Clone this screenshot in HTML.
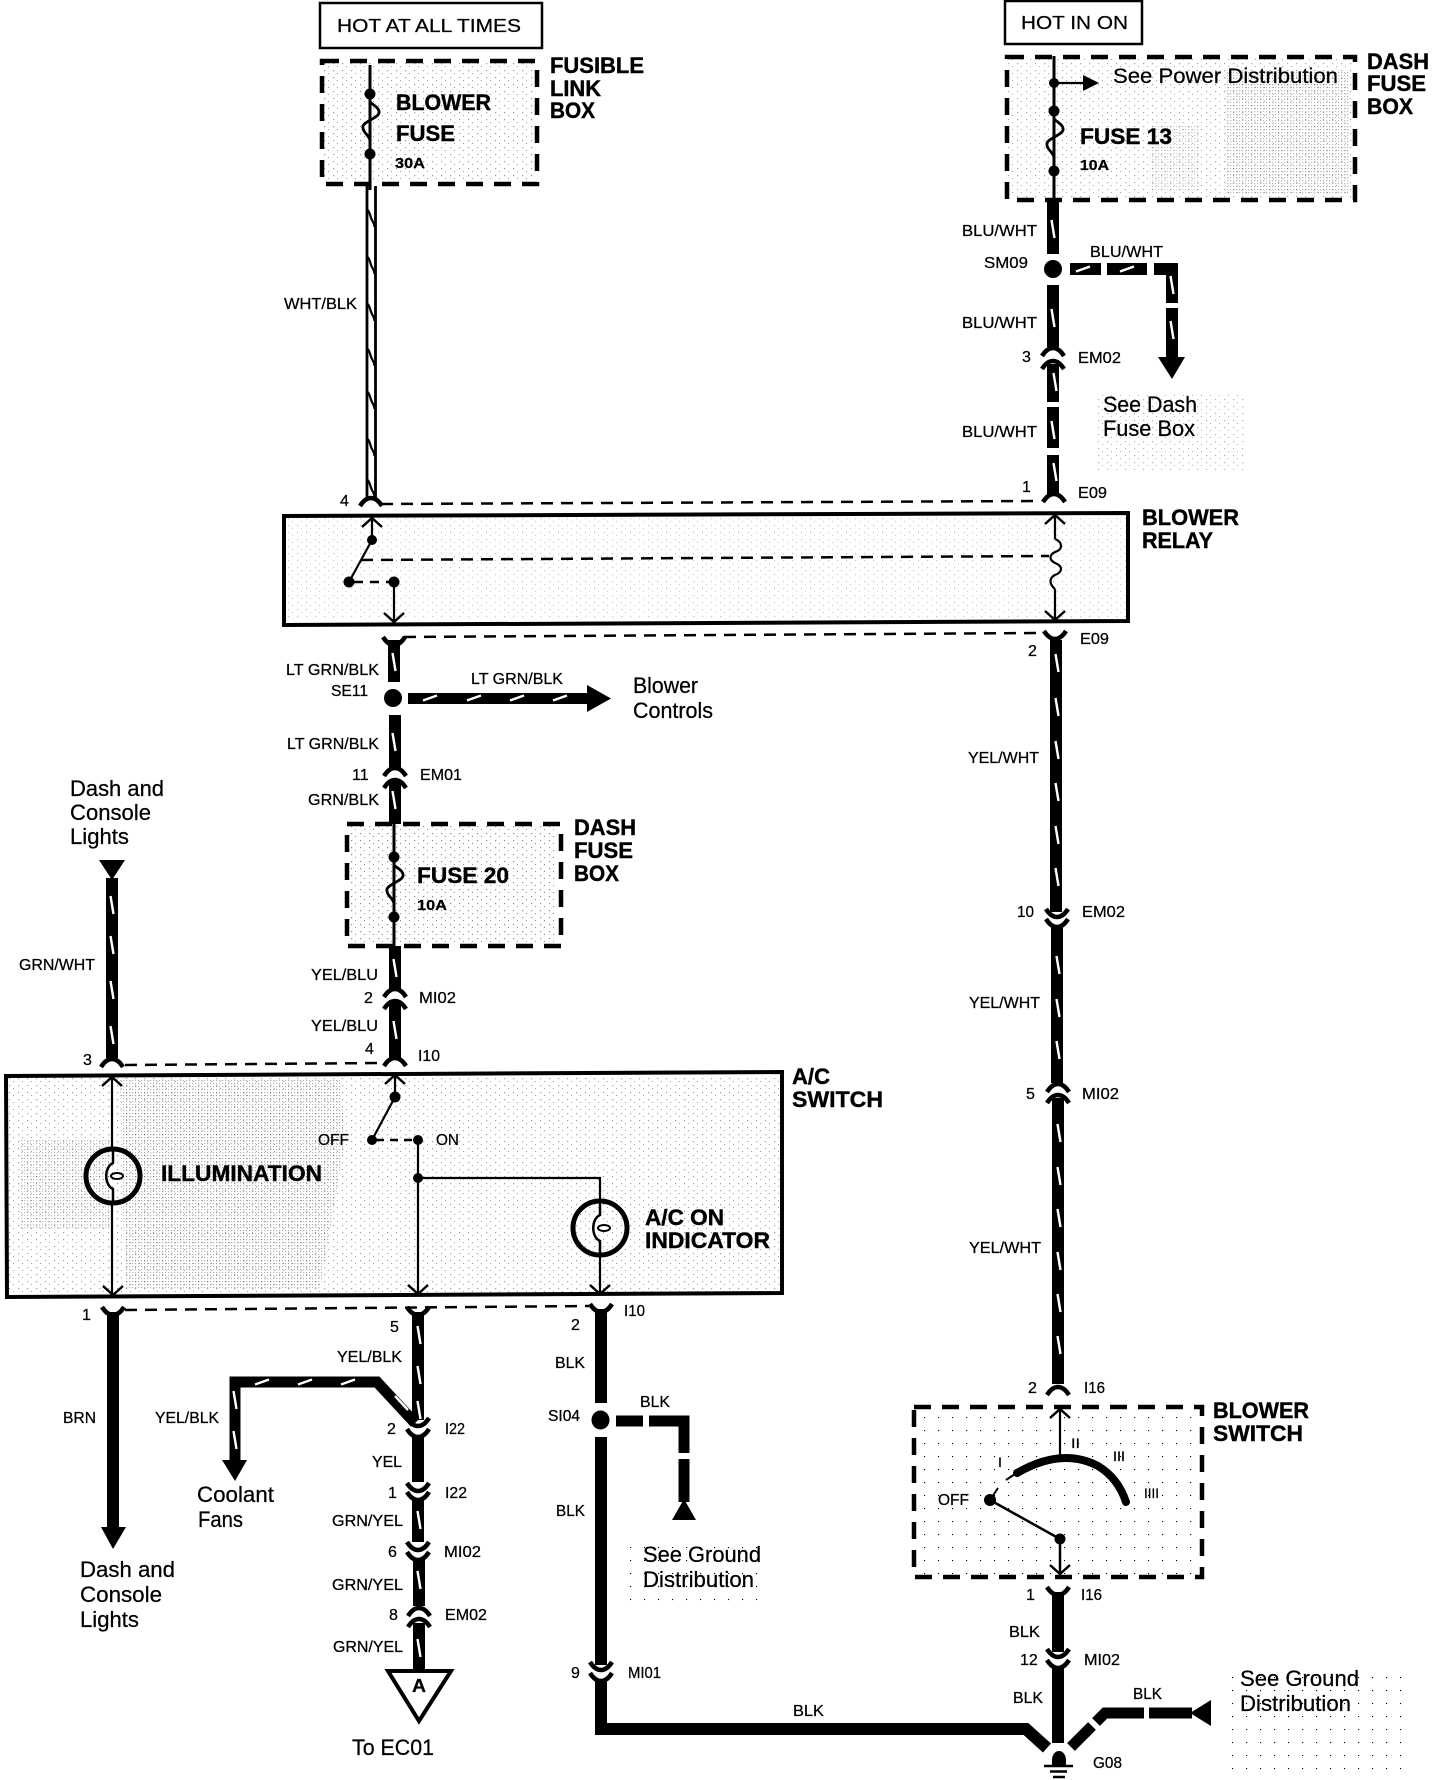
<!DOCTYPE html>
<html><head><meta charset="utf-8"><style>
html,body{margin:0;padding:0;background:#fff}
svg{display:block}
text{font-family:"Liberation Sans",sans-serif;fill:#000;stroke:#000;stroke-width:.25px}
.l{font-size:15.5px}
.n{font-size:16px}
.b{font-size:22px;font-weight:bold;stroke-width:.4px}
.g{font-size:22px}
.w{stroke:#000;stroke-width:12;fill:none}
.box{stroke:#000;stroke-width:4;fill:none}
.dbox{stroke:#000;stroke-width:4.5;fill:none;stroke-dasharray:17 11}
.dl{stroke:#000;stroke-width:2.5;fill:none;stroke-dasharray:12 8}
.t{stroke:#000;stroke-width:2.2;fill:none}
.tk{stroke:#000;stroke-width:4;fill:none}
</style></head><body>
<svg xmlns="http://www.w3.org/2000/svg" width="1440" height="1780" viewBox="0 0 1440 1780">
<defs>
<pattern id="p1" width="9" height="7" patternUnits="userSpaceOnUse"><rect width="1.2" height="1.2" fill="#000"/><rect x="4" y="3" width="1" height="1" fill="#000"/></pattern>
<pattern id="p2" width="3" height="3" patternUnits="userSpaceOnUse"><rect width="1.2" height="1.2" fill="#000"/></pattern>
<pattern id="p3" width="14" height="13" patternUnits="userSpaceOnUse"><rect width="1.1" height="1.1" fill="#000"/></pattern>
<path id="t" d="M-1.5 -9 L1.5 9" stroke="#fff" stroke-width="2.4" fill="none"/>
<path id="h" d="M-7 2.5 L7 -2.5" stroke="#fff" stroke-width="2.4" fill="none"/>
<path id="a" d="M-11 5 Q-6 -3 0 -3 Q6 -3 11 5" stroke="#000" stroke-width="4.5" fill="none"/>
<path id="v" d="M-11 -5 Q-6 3 0 3 Q6 3 11 -5" stroke="#000" stroke-width="4.5" fill="none"/>
<path id="u" d="M-10 9 L0 0 L10 9" stroke="#000" stroke-width="2.5" fill="none"/>
<path id="d" d="M-10 -9 L0 0 L10 -9" stroke="#000" stroke-width="2.5" fill="none"/>
<path id="s" d="M-3.5 -8 C-1 -6 -1 -2 0.5 1 C1.5 4 3.5 5 3.5 9" stroke="#000" stroke-width="2.2" fill="none"/>
<g id="f"><path d="M0 0 V8 C3 11 10 14 9 19 C8 24 -5 27 -7 32 C-8 38 -2 40 0 46 V60" stroke="#000" stroke-width="2.8" fill="none"/><circle r="5.5" fill="#000"/><circle cy="60" r="5.5" fill="#000"/></g>
<g id="bulb"><circle r="27" stroke="#000" stroke-width="5" fill="none"/><path d="M0 -26 V-13 C-9 -9 -9 9 0 13 V26" stroke="#000" stroke-width="2.5" fill="none"/><ellipse cx="4" cy="0" rx="6" ry="3" stroke="#000" stroke-width="2" fill="#fff"/></g>
</defs>

<!-- stipple -->
<rect x="323" y="62" width="212" height="120" fill="url(#p1)" opacity=".4"/>
<rect x="1008" y="58" width="345" height="140" fill="url(#p1)" opacity=".35"/>
<rect x="1225" y="70" width="125" height="125" fill="url(#p2)" opacity=".28"/>
<rect x="1150" y="125" width="50" height="65" fill="url(#p2)" opacity=".18"/>
<rect x="1095" y="395" width="150" height="75" fill="url(#p1)" opacity=".3"/>
<rect x="286" y="518" width="840" height="100" fill="url(#p1)" opacity=".22"/>
<rect x="348" y="825" width="210" height="118" fill="url(#p1)" opacity=".45"/>
<rect x="8" y="1078" width="772" height="214" fill="url(#p1)" opacity=".38"/>
<path d="M120 1080 H340 L345 1140 L320 1290 H125 Z" fill="url(#p2)" opacity=".3"/>
<path d="M20 1140 H110 V1230 H20 Z" fill="url(#p2)" opacity=".25"/>
<rect x="915" y="1408" width="285" height="167" fill="url(#p3)"/>
<rect x="630" y="1540" width="140" height="70" fill="url(#p3)"/>
<rect x="1225" y="1670" width="180" height="100" fill="url(#p3)"/>

<!-- top boxes -->
<rect x="320" y="3" width="222" height="45" fill="#fff" stroke="#000" stroke-width="2.5"/>
<text class="n" x="337" y="32" textLength="184" lengthAdjust="spacingAndGlyphs" style="font-size:18px">HOT AT ALL TIMES</text>
<rect x="1005" y="1" width="137" height="43" fill="#fff" stroke="#000" stroke-width="2.5"/>
<text class="n" x="1021" y="29" textLength="107" lengthAdjust="spacingAndGlyphs" style="font-size:18px">HOT IN ON</text>

<!-- fusible link box -->
<rect class="dbox" x="322" y="61" width="215" height="123"/>
<path class="t" d="M370 65 V190" style="stroke-width:3"/>
<use href="#f" x="370" y="94"/>
<text class="b" x="396" y="110" textLength="95" lengthAdjust="spacingAndGlyphs">BLOWER</text>
<text class="b" x="396" y="141" textLength="59" lengthAdjust="spacingAndGlyphs">FUSE</text>
<text x="395" y="168" textLength="30" lengthAdjust="spacingAndGlyphs" style="font-size:15px;font-weight:bold">30A</text>
<text class="b" x="550" y="73" textLength="94" lengthAdjust="spacingAndGlyphs">FUSIBLE</text>
<text class="b" x="550" y="96" textLength="51" lengthAdjust="spacingAndGlyphs">LINK</text>
<text class="b" x="550" y="118" textLength="45" lengthAdjust="spacingAndGlyphs">BOX</text>

<!-- double wire -->
<path d="M367 186 V498 M375.5 186 V498" stroke="#000" stroke-width="2.8" fill="none"/>
<use href="#s" x="371" y="218"/><use href="#s" x="371" y="265"/><use href="#s" x="371" y="312"/><use href="#s" x="371" y="357"/><use href="#s" x="371" y="400"/><use href="#s" x="371" y="447"/><use href="#s" x="371" y="488"/>
<text class="l" x="284" y="309" textLength="73" lengthAdjust="spacingAndGlyphs">WHT/BLK</text>
<text class="n" x="340" y="506">4</text>
<use href="#a" x="371" y="501"/>
<path class="dl" d="M381 504 L1041 501"/>

<!-- relay -->
<path class="box" d="M284 516 L1128 513 V621 L284 625 Z"/>
<path class="t" d="M372 518 V540 L349 582"/>
<use href="#u" x="372" y="518"/>
<circle cx="372" cy="540" r="5" fill="#000"/><circle cx="349" cy="582" r="5.5" fill="#000"/><circle cx="394" cy="582" r="5.5" fill="#000"/>
<path class="t" d="M394 582 V622"/><use href="#d" x="394" y="622"/>
<path d="M354 582 H392" stroke="#000" stroke-width="2.5" stroke-dasharray="9 7"/>
<path class="dl" d="M361 560 L1049 556"/>
<path class="t" d="M1055 515 V539 M1055 589 V620"/>
<path class="t" d="M1055 539 C1063 542 1063 550 1055 552 C1049 555 1049 560 1055 563 C1063 566 1063 572 1055 575 C1049 578 1049 584 1055 589"/>
<use href="#u" x="1055" y="515"/><use href="#d" x="1055" y="620"/>
<text class="b" x="1142" y="525" textLength="97" lengthAdjust="spacingAndGlyphs">BLOWER</text>
<text class="b" x="1142" y="548" textLength="71" lengthAdjust="spacingAndGlyphs">RELAY</text>

<!-- dash fuse box top -->
<rect class="dbox" x="1007" y="57" width="348" height="143"/>
<path class="t" d="M1054 56 V200" style="stroke-width:3"/>
<use href="#f" x="1054" y="111"/>
<circle cx="1054" cy="83" r="5" fill="#000"/>
<path class="t" d="M1054 83 H1085"/><path d="M1083 75 L1099 83 L1083 91 Z" fill="#000"/>
<text x="1113" y="83" textLength="225" lengthAdjust="spacingAndGlyphs" style="font-size:21px">See Power Distribution</text>
<text class="b" x="1080" y="144" textLength="92" lengthAdjust="spacingAndGlyphs">FUSE 13</text>
<text x="1080" y="170" textLength="29" lengthAdjust="spacingAndGlyphs" style="font-size:15px;font-weight:bold">10A</text>
<text class="b" x="1367" y="69" textLength="62" lengthAdjust="spacingAndGlyphs">DASH</text>
<text class="b" x="1367" y="91" textLength="59" lengthAdjust="spacingAndGlyphs">FUSE</text>
<text class="b" x="1367" y="114" textLength="46" lengthAdjust="spacingAndGlyphs">BOX</text>

<!-- BLU/WHT wire -->
<path class="w" d="M1053 200 V254 M1053 285 V347 M1053 364 V402 M1053 407 V448 M1053 455 V494"/>
<use href="#t" x="1053" y="229"/><use href="#t" x="1053" y="318"/><use href="#t" x="1055" y="382"/><use href="#t" x="1053" y="430"/><use href="#t" x="1055" y="472"/>
<circle cx="1053" cy="269" r="9" fill="#000"/>
<use href="#a" x="1053" y="351"/><use href="#a" x="1053" y="364"/><use href="#a" x="1054" y="497"/>
<path class="w" d="M1070 269 H1101 M1107 269 H1147 M1154 269 H1172 V303 M1172 308 V358"/>
<use href="#h" x="1083" y="269"/><use href="#h" x="1127" y="269"/>
<use href="#t" x="1172" y="285"/><use href="#t" x="1172" y="330"/>
<path d="M1158 357 H1185 L1172 379 Z" fill="#000"/>
<text class="l" x="962" y="236" textLength="75" lengthAdjust="spacingAndGlyphs">BLU/WHT</text>
<text class="l" x="984" y="268" textLength="44" lengthAdjust="spacingAndGlyphs">SM09</text>
<text class="l" x="962" y="328" textLength="75" lengthAdjust="spacingAndGlyphs">BLU/WHT</text>
<text class="n" x="1022" y="362">3</text>
<text class="l" x="1078" y="363" textLength="43" lengthAdjust="spacingAndGlyphs">EM02</text>
<text class="l" x="962" y="437" textLength="75" lengthAdjust="spacingAndGlyphs">BLU/WHT</text>
<text class="n" x="1022" y="492">1</text>
<text class="l" x="1078" y="498" textLength="29" lengthAdjust="spacingAndGlyphs">E09</text>
<text class="l" x="1090" y="257" textLength="73" lengthAdjust="spacingAndGlyphs">BLU/WHT</text>
<text class="g" x="1103" y="412" textLength="94" lengthAdjust="spacingAndGlyphs">See Dash</text>
<text class="g" x="1103" y="436" textLength="92" lengthAdjust="spacingAndGlyphs">Fuse Box</text>

<!-- right YEL/WHT -->
<path class="dl" d="M404 637 L1044 633"/>
<use href="#v" x="1055" y="636"/>
<path class="w" d="M1056 640 V912 M1057 926 V1083 M1058 1098 V1384"/>
<use href="#t" x="1057" y="663"/><use href="#t" x="1057" y="707"/><use href="#t" x="1057" y="750"/><use href="#t" x="1057" y="792"/><use href="#t" x="1057" y="835"/><use href="#t" x="1057" y="877"/>
<use href="#t" x="1058" y="965"/><use href="#t" x="1058" y="1008"/><use href="#t" x="1058" y="1050"/><use href="#t" x="1059" y="1133"/><use href="#t" x="1059" y="1176"/><use href="#t" x="1059" y="1218"/><use href="#t" x="1059" y="1261"/><use href="#t" x="1059" y="1303"/><use href="#t" x="1059" y="1345"/>
<use href="#v" x="1057" y="914"/><use href="#v" x="1057" y="924"/>
<use href="#a" x="1058" y="1087"/><use href="#a" x="1058" y="1098"/>
<text class="n" x="1028" y="656">2</text>
<text class="l" x="1080" y="644" textLength="29" lengthAdjust="spacingAndGlyphs">E09</text>
<text class="l" x="968" y="763" textLength="71" lengthAdjust="spacingAndGlyphs">YEL/WHT</text>
<text class="l" x="1017" y="917" textLength="17" lengthAdjust="spacingAndGlyphs">10</text>
<text class="l" x="1082" y="917" textLength="43" lengthAdjust="spacingAndGlyphs">EM02</text>
<text class="l" x="969" y="1008" textLength="71" lengthAdjust="spacingAndGlyphs">YEL/WHT</text>
<text class="n" x="1026" y="1099">5</text>
<text class="l" x="1082" y="1099" textLength="37" lengthAdjust="spacingAndGlyphs">MI02</text>
<text class="l" x="969" y="1253" textLength="72" lengthAdjust="spacingAndGlyphs">YEL/WHT</text>

<!-- center upper -->
<use href="#v" x="394" y="642"/>
<path class="w" d="M394 640 V682 M395 715 V768 M395 781 V824"/>
<use href="#t" x="394" y="662"/><use href="#t" x="394" y="742"/><use href="#t" x="394" y="800"/>
<circle cx="393" cy="698" r="9" fill="#000"/>
<use href="#a" x="395" y="771"/><use href="#a" x="395" y="783"/>
<path class="w" d="M408 698.5 H588" style="stroke-width:11"/>
<use href="#h" x="430" y="698"/><use href="#h" x="474" y="698"/><use href="#h" x="517" y="698"/><use href="#h" x="560" y="698"/>
<path d="M587 685 L611 698.5 L587 712 Z" fill="#000"/>
<text class="l" x="286" y="675" textLength="93" lengthAdjust="spacingAndGlyphs">LT GRN/BLK</text>
<text class="l" x="331" y="696" textLength="37" lengthAdjust="spacingAndGlyphs">SE11</text>
<text class="l" x="287" y="749" textLength="92" lengthAdjust="spacingAndGlyphs">LT GRN/BLK</text>
<text class="n" x="352" y="780">11</text>
<text class="l" x="420" y="780" textLength="42" lengthAdjust="spacingAndGlyphs">EM01</text>
<text class="l" x="308" y="805" textLength="71" lengthAdjust="spacingAndGlyphs">GRN/BLK</text>
<text class="l" x="471" y="684" textLength="92" lengthAdjust="spacingAndGlyphs">LT GRN/BLK</text>
<text class="g" x="633" y="693" textLength="65" lengthAdjust="spacingAndGlyphs">Blower</text>
<text class="g" x="633" y="718" textLength="80" lengthAdjust="spacingAndGlyphs">Controls</text>

<!-- fuse 20 -->
<rect class="dbox" x="347" y="824" width="214" height="122"/>
<path class="t" d="M394 824 V946" style="stroke-width:3"/>
<use href="#f" x="394" y="857"/>
<text class="b" x="417" y="883" textLength="92" lengthAdjust="spacingAndGlyphs">FUSE 20</text>
<text x="417" y="910" textLength="30" lengthAdjust="spacingAndGlyphs" style="font-size:15px;font-weight:bold">10A</text>
<text class="b" x="574" y="835" textLength="62" lengthAdjust="spacingAndGlyphs">DASH</text>
<text class="b" x="574" y="858" textLength="59" lengthAdjust="spacingAndGlyphs">FUSE</text>
<text class="b" x="574" y="881" textLength="45" lengthAdjust="spacingAndGlyphs">BOX</text>
<path class="w" d="M395 946 V990 M395 1003 V1058"/>
<use href="#t" x="395" y="968"/><use href="#t" x="395" y="1030"/>
<use href="#a" x="395" y="992"/><use href="#a" x="395" y="1004"/><use href="#a" x="395" y="1061"/>
<text class="l" x="311" y="980" textLength="67" lengthAdjust="spacingAndGlyphs">YEL/BLU</text>
<text class="n" x="364" y="1003">2</text>
<text class="l" x="419" y="1003" textLength="37" lengthAdjust="spacingAndGlyphs">MI02</text>
<text class="l" x="311" y="1031" textLength="67" lengthAdjust="spacingAndGlyphs">YEL/BLU</text>
<text class="n" x="365" y="1054">4</text>
<text class="l" x="418" y="1061" textLength="22" lengthAdjust="spacingAndGlyphs">I10</text>

<!-- dash lights in -->
<text class="g" x="70" y="796" textLength="94" lengthAdjust="spacingAndGlyphs">Dash and</text>
<text class="g" x="70" y="820" textLength="81" lengthAdjust="spacingAndGlyphs">Console</text>
<text class="g" x="70" y="844" textLength="59" lengthAdjust="spacingAndGlyphs">Lights</text>
<path d="M99 860 H125 L112 880 Z" fill="#000"/>
<path class="w" d="M112 878 V1058"/>
<use href="#t" x="112" y="905"/><use href="#t" x="112" y="945"/><use href="#t" x="112" y="990"/><use href="#t" x="112" y="1035"/>
<use href="#a" x="112" y="1062"/>
<text class="l" x="19" y="970" textLength="76" lengthAdjust="spacingAndGlyphs">GRN/WHT</text>
<text class="n" x="83" y="1065">3</text>
<path class="dl" d="M125 1065 L384 1063"/>

<!-- A/C switch -->
<path class="box" d="M6 1076 L782 1072 V1293 L7 1297 Z"/>
<path class="t" d="M112 1076 V1149 M112 1203 V1295"/>
<use href="#u" x="112" y="1077"/><use href="#d" x="113" y="1295"/>
<use href="#bulb" x="113" y="1176"/>
<text class="b" x="161" y="1181" textLength="161" lengthAdjust="spacingAndGlyphs">ILLUMINATION</text>
<path class="t" d="M395 1074 V1097 L372 1140"/>
<use href="#u" x="395" y="1075"/>
<circle cx="395" cy="1097" r="5.5" fill="#000"/><circle cx="372" cy="1140" r="5" fill="#000"/><circle cx="418" cy="1140" r="5" fill="#000"/><circle cx="418" cy="1178" r="5" fill="#000"/>
<path d="M376 1140 H416" stroke="#000" stroke-width="2.5" stroke-dasharray="8 6"/>
<text class="l" x="318" y="1145" textLength="31" lengthAdjust="spacingAndGlyphs">OFF</text>
<text class="l" x="436" y="1145" textLength="23" lengthAdjust="spacingAndGlyphs">ON</text>
<path class="t" d="M418 1140 V1294 M418 1178 H600 V1201 M600 1255 V1294"/>
<use href="#d" x="418" y="1294"/><use href="#d" x="600" y="1294"/>
<use href="#bulb" x="600" y="1228"/>
<text class="b" x="645" y="1225" textLength="79" lengthAdjust="spacingAndGlyphs">A/C ON</text>
<text class="b" x="645" y="1248" textLength="125" lengthAdjust="spacingAndGlyphs">INDICATOR</text>
<text class="b" x="792" y="1084" textLength="38" lengthAdjust="spacingAndGlyphs">A/C</text>
<text class="b" x="792" y="1107" textLength="91" lengthAdjust="spacingAndGlyphs">SWITCH</text>

<!-- below A/C -->
<path class="dl" d="M125 1310 L589 1306"/>
<use href="#v" x="113" y="1312"/><use href="#v" x="418" y="1312"/><use href="#v" x="601" y="1309"/>
<path class="w" d="M113 1312 V1528"/>
<path d="M101 1527 H126 L113 1549 Z" fill="#000"/>
<text class="l" x="63" y="1423" textLength="33" lengthAdjust="spacingAndGlyphs">BRN</text>
<text class="n" x="82" y="1320">1</text>
<text class="g" x="80" y="1577" textLength="95" lengthAdjust="spacingAndGlyphs">Dash and</text>
<text class="g" x="80" y="1602" textLength="82" lengthAdjust="spacingAndGlyphs">Console</text>
<text class="g" x="80" y="1627" textLength="59" lengthAdjust="spacingAndGlyphs">Lights</text>

<!-- center lower -->
<path class="w" d="M418 1312 V1420 M418 1437 V1482 M418 1500 V1542 M419 1560 V1606 M419 1623 V1672"/>
<use href="#t" x="419" y="1335"/><use href="#t" x="419" y="1375"/><use href="#t" x="419" y="1410"/>
<use href="#t" x="419" y="1520"/><use href="#t" x="419" y="1580"/><use href="#t" x="419" y="1648"/>
<path d="M415 1423 L377 1382 H235 V1462" stroke="#000" stroke-width="11" fill="none"/>
<use href="#h" x="262" y="1382"/><use href="#h" x="305" y="1382"/><use href="#h" x="348" y="1382"/>
<use href="#t" x="235" y="1400"/><use href="#t" x="235" y="1440"/>
<path d="M395 1396 L408 1410" stroke="#fff" stroke-width="2.4"/>
<path d="M222 1460 H247 L235 1481 Z" fill="#000"/>
<use href="#v" x="418" y="1423"/><use href="#v" x="418" y="1434"/>
<use href="#v" x="418" y="1488"/><use href="#v" x="418" y="1497"/>
<use href="#v" x="418" y="1547"/><use href="#v" x="418" y="1557"/>
<use href="#a" x="419" y="1611"/><use href="#a" x="419" y="1622"/>
<text class="n" x="390" y="1332">5</text>
<text class="l" x="337" y="1362" textLength="65" lengthAdjust="spacingAndGlyphs">YEL/BLK</text>
<text class="l" x="155" y="1423" textLength="64" lengthAdjust="spacingAndGlyphs">YEL/BLK</text>
<text class="g" x="197" y="1502" textLength="77" lengthAdjust="spacingAndGlyphs">Coolant</text>
<text class="g" x="198" y="1527" textLength="45" lengthAdjust="spacingAndGlyphs">Fans</text>
<text class="n" x="387" y="1434">2</text>
<text class="l" x="445" y="1434" textLength="20" lengthAdjust="spacingAndGlyphs">I22</text>
<text class="l" x="372" y="1467" textLength="30" lengthAdjust="spacingAndGlyphs">YEL</text>
<text class="n" x="388" y="1498">1</text>
<text class="l" x="445" y="1498" textLength="22" lengthAdjust="spacingAndGlyphs">I22</text>
<text class="l" x="332" y="1526" textLength="71" lengthAdjust="spacingAndGlyphs">GRN/YEL</text>
<text class="n" x="388" y="1557">6</text>
<text class="l" x="444" y="1557" textLength="37" lengthAdjust="spacingAndGlyphs">MI02</text>
<text class="l" x="332" y="1590" textLength="71" lengthAdjust="spacingAndGlyphs">GRN/YEL</text>
<text class="n" x="389" y="1620">8</text>
<text class="l" x="445" y="1620" textLength="42" lengthAdjust="spacingAndGlyphs">EM02</text>
<text class="l" x="333" y="1652" textLength="70" lengthAdjust="spacingAndGlyphs">GRN/YEL</text>
<path d="M388 1671 H451 L419 1721 Z" fill="#fff" stroke="#000" stroke-width="4"/>
<text x="412" y="1692" textLength="14" lengthAdjust="spacingAndGlyphs" style="font-size:18px;font-weight:bold">A</text>
<text class="g" x="352" y="1755" textLength="82" lengthAdjust="spacingAndGlyphs">To EC01</text>

<!-- BLK center -->
<path class="w" d="M601 1309 V1403 M601 1437 V1665 M601 1680 V1729 H1026 L1047 1748" style="stroke-width:12"/>
<ellipse cx="600.5" cy="1420" rx="9" ry="9.5" fill="#000"/>
<use href="#v" x="601" y="1667"/><use href="#v" x="601" y="1678"/>
<path class="w" d="M616 1421 H643 M649 1421 H684 V1453 M684 1459 V1502" style="stroke-width:11"/>
<path d="M684 1499 L696 1520 H672 Z" fill="#000"/>
<text class="l" x="624" y="1316" textLength="21" lengthAdjust="spacingAndGlyphs">I10</text>
<text class="n" x="571" y="1330">2</text>
<text class="l" x="555" y="1368" textLength="30" lengthAdjust="spacingAndGlyphs">BLK</text>
<text class="l" x="548" y="1421" textLength="32" lengthAdjust="spacingAndGlyphs">SI04</text>
<text class="l" x="640" y="1407" textLength="30" lengthAdjust="spacingAndGlyphs">BLK</text>
<text class="l" x="556" y="1516" textLength="29" lengthAdjust="spacingAndGlyphs">BLK</text>
<text class="n" x="571" y="1678">9</text>
<text class="l" x="628" y="1678" textLength="33" lengthAdjust="spacingAndGlyphs">MI01</text>
<text class="g" x="643" y="1562" textLength="118" lengthAdjust="spacingAndGlyphs">See Ground</text>
<text class="g" x="643" y="1587" textLength="111" lengthAdjust="spacingAndGlyphs">Distribution</text>
<text class="l" x="793" y="1716" textLength="31" lengthAdjust="spacingAndGlyphs">BLK</text>

<!-- blower switch -->
<use href="#a" x="1058" y="1390"/>
<rect class="dbox" x="914" y="1407" width="288" height="170"/>
<text class="n" x="1028" y="1393">2</text>
<text class="l" x="1084" y="1393" textLength="21" lengthAdjust="spacingAndGlyphs">I16</text>
<text class="b" x="1213" y="1418" textLength="96" lengthAdjust="spacingAndGlyphs">BLOWER</text>
<text class="b" x="1213" y="1441" textLength="90" lengthAdjust="spacingAndGlyphs">SWITCH</text>
<path class="t" d="M1060 1408 V1460"/><use href="#u" x="1060" y="1409"/>
<path d="M1017 1473 Q1062 1447 1098 1466 Q1118 1478 1126 1502" stroke="#000" stroke-width="8" stroke-linecap="round" fill="none"/>
<text x="998" y="1467" style="font-size:14px">I</text>
<text x="1071" y="1448" textLength="9" lengthAdjust="spacingAndGlyphs" style="font-size:14px">II</text>
<text x="1113" y="1461" textLength="12" lengthAdjust="spacingAndGlyphs" style="font-size:14px">III</text>
<text x="1144" y="1498" textLength="15" lengthAdjust="spacingAndGlyphs" style="font-size:14px">IIII</text>
<text class="l" x="938" y="1505" textLength="31" lengthAdjust="spacingAndGlyphs">OFF</text>
<circle cx="990" cy="1500" r="6" fill="#000"/>
<path d="M990 1500 L1060 1539 V1573" stroke="#000" stroke-width="2.5" fill="none"/>
<path d="M1006 1480 L1015 1474 M998 1488 L992 1497" stroke="#000" stroke-width="2" fill="none"/>
<circle cx="1060" cy="1539" r="5.5" fill="#000"/>
<use href="#d" x="1060" y="1574"/>
<use href="#v" x="1058" y="1592"/>
<text class="n" x="1026" y="1600">1</text>
<text class="l" x="1081" y="1600" textLength="21" lengthAdjust="spacingAndGlyphs">I16</text>
<path class="w" d="M1058 1592 V1652 M1058 1668 V1743"/>
<use href="#v" x="1058" y="1654"/><use href="#v" x="1058" y="1665"/>
<text class="l" x="1009" y="1637" textLength="31" lengthAdjust="spacingAndGlyphs">BLK</text>
<text class="n" x="1020" y="1665">12</text>
<text class="l" x="1084" y="1665" textLength="36" lengthAdjust="spacingAndGlyphs">MI02</text>
<text class="l" x="1013" y="1703" textLength="30" lengthAdjust="spacingAndGlyphs">BLK</text>

<!-- ground -->
<path class="w" d="M1071 1747 L1092 1726 M1096 1722 L1105 1713 H1144 M1149 1713 H1192" style="stroke-width:11"/>
<path d="M1190 1713 L1211 1700 V1726 Z" fill="#000"/>
<text class="l" x="1133" y="1699" textLength="29" lengthAdjust="spacingAndGlyphs">BLK</text>
<text class="g" x="1240" y="1686" textLength="119" lengthAdjust="spacingAndGlyphs">See Ground</text>
<text class="g" x="1240" y="1711" textLength="111" lengthAdjust="spacingAndGlyphs">Distribution</text>
<path d="M1052 1765 V1760 A7 9 0 0 1 1066 1760 V1765 Z" fill="#000"/>
<path d="M1044 1766 H1073 M1050 1771.5 H1067 M1053 1777 H1065" stroke="#000" stroke-width="2.5"/>
<text class="l" x="1093" y="1768" textLength="29" lengthAdjust="spacingAndGlyphs">G08</text>
</svg>
</body></html>
